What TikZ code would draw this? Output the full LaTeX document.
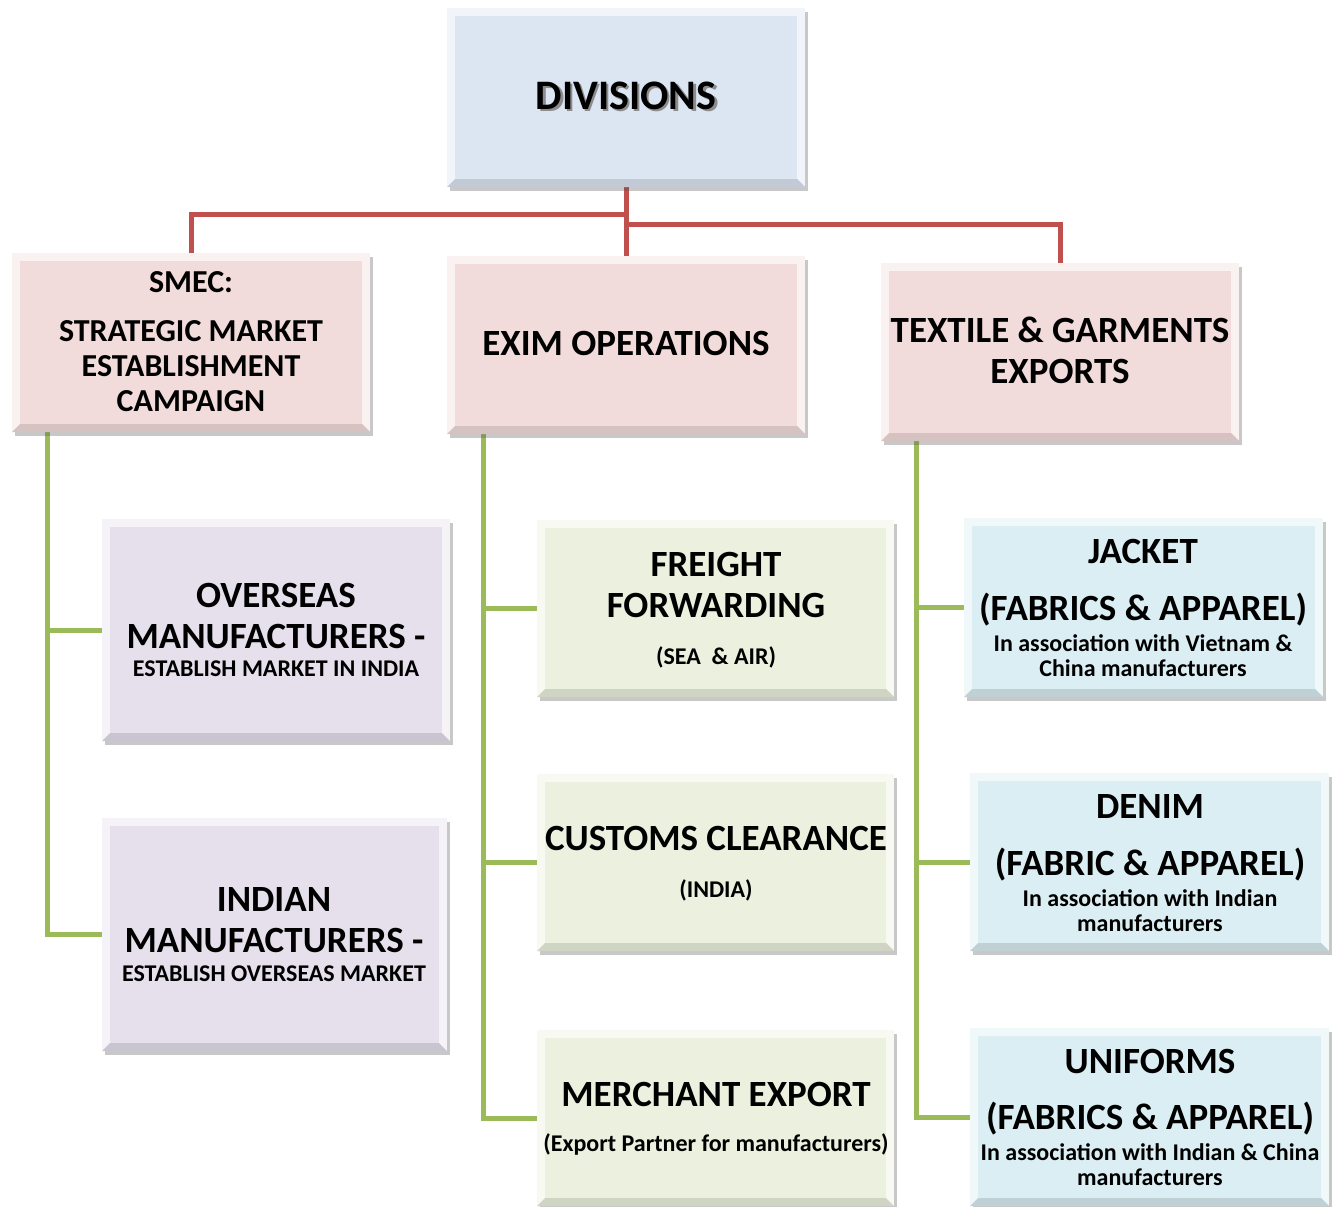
\documentclass[tikz,border=0pt]{standalone}
\usepackage{fontspec}
\setmainfont{Carlito}
\usetikzlibrary{shadows,backgrounds}

\definecolor{divfill}{HTML}{DCE6F2}
\definecolor{pinkfill}{HTML}{F2DCDB}
\definecolor{lilacfill}{HTML}{E5E0EC}
\definecolor{greenfill}{HTML}{EBF1DE}
\definecolor{bluefill}{HTML}{DAEEF3}
\definecolor{redline}{HTML}{C0504D}
\definecolor{greenline}{HTML}{9BBB59}

\tikzset{
  % bevelled box with soft drop shadow
  bx/.style={rectangle, inner sep=0pt, draw=none, fill=#1!40!white,
    drop shadow={shadow xshift=3pt, shadow yshift=-4pt, opacity=0.3, fill=black!70},
    path picture={
      \fill[#1!88!black] (path picture bounding box.south west) -- (path picture bounding box.south east)
        -- ([shift={(-8pt,8pt)}]path picture bounding box.south east)
        -- ([shift={(8pt,8pt)}]path picture bounding box.south west) -- cycle;
      \fill[#1] ([shift={(8pt,-8pt)}]path picture bounding box.north west)
        rectangle ([shift={(-8pt,8pt)}]path picture bounding box.south east);
    }},
  t/.style={font=\fontsize{#1pt}{#1pt}\selectfont\bfseries, anchor=base, inner sep=0pt},
  redl/.style={draw=redline, line width=5pt},
  greenl/.style={draw=greenline, line width=5pt},
}

\begin{document}
\begin{tikzpicture}[x=1pt, y=-1pt]
\useasboundingbox (0,0) rectangle (1336,1207);

% ---- boxes ----
\node[bx=divfill,   minimum width=358pt, minimum height=179pt] (div)  at (626,97.5) {};
\node[bx=pinkfill,  minimum width=358pt, minimum height=179pt] (smec) at (191,342.5) {};
\node[bx=pinkfill,  minimum width=358pt, minimum height=178pt] (exim) at (626,345) {};
\node[bx=pinkfill,  minimum width=358pt, minimum height=178pt] (tex)  at (1060,352) {};

\node[bx=lilacfill, minimum width=348pt, minimum height=222pt] (ovs)  at (276,630) {};
\node[bx=lilacfill, minimum width=345pt, minimum height=233pt] (ind)  at (274.5,934.5) {};

\node[bx=greenfill, minimum width=357pt, minimum height=177pt] (frt)  at (715.5,608.5) {};
\node[bx=greenfill, minimum width=357pt, minimum height=177pt] (cus)  at (715.5,862.5) {};
\node[bx=greenfill, minimum width=357pt, minimum height=176pt] (mer)  at (715.5,1118) {};

\node[bx=bluefill,  minimum width=359pt, minimum height=179pt] (jak)  at (1143.5,607.5) {};
\node[bx=bluefill,  minimum width=359pt, minimum height=178pt] (den)  at (1149.5,862) {};
\node[bx=bluefill,  minimum width=359pt, minimum height=178pt] (uni)  at (1149.5,1117) {};

% ---- connectors ----
\begin{scope}[on background layer]
  \fill[white] (0,0) rectangle (1336,1207);
  \coordinate (jl) at (626,214);
  \coordinate (jr) at (626,224);
  \draw[redl] (div.south) -- (exim.north);
  \draw[redl] (jl) -| (smec.north);
  \draw[redl] (jr) -| (tex.north);

  \coordinate (s0) at (47,432);
  \draw[greenl] (s0) |- (ind.west);
  \draw[greenl] (s0) |- (ovs.west);

  \coordinate (e0) at (483,434);
  \draw[greenl] (e0) |- (mer.west);
  \draw[greenl] (e0) |- (cus.west);
  \draw[greenl] (e0) |- (frt.west);

  \coordinate (x0) at (916,441);
  \draw[greenl] (x0) |- (uni.west);
  \draw[greenl] (x0) |- (den.west);
  \draw[greenl] (x0) |- (jak.west);
\end{scope}

% ---- texts ----
\node[t=42, text=black!45] (div-s) at (628.5,111.5) {DIVISIONS};
\node[t=42] (div-t) at (626,109) {DIVISIONS};

\node[t=32] (smec-1) at (191,292) {SMEC:};
\node[t=32] (smec-2) at (191,341) {STRATEGIC MARKET};
\node[t=32] (smec-3) at (191,376) {ESTABLISHMENT};
\node[t=32] (smec-4) at (191,411) {CAMPAIGN};

\node[t=37] (exim-1) at (626,355) {EXIM OPERATIONS};

\node[t=37] (tex-1) at (1060,342) {TEXTILE \& GARMENTS};
\node[t=37] (tex-2) at (1060,383) {EXPORTS};

\node[t=37] (ovs-1) at (276,607) {OVERSEAS};
\node[t=37] (ovs-2) at (276,648) {MANUFACTURERS -};
\node[t=24] (ovs-3) at (276,676) {ESTABLISH MARKET IN INDIA};

\node[t=37] (ind-1) at (274,911) {INDIAN};
\node[t=37] (ind-2) at (274,952) {MANUFACTURERS -};
\node[t=24] (ind-3) at (274,981) {ESTABLISH OVERSEAS MARKET};

\node[t=37] (frt-1) at (716,576) {FREIGHT};
\node[t=37] (frt-2) at (716,617) {FORWARDING};
\node[t=24] (frt-3) at (716,664) {(SEA\ \ \& AIR)};

\node[t=37] (cus-1) at (716,850) {CUSTOMS CLEARANCE};
\node[t=24] (cus-2) at (716,897) {(INDIA)};

\node[t=37] (mer-1) at (716,1106) {MERCHANT EXPORT};
\node[t=24] (mer-2) at (716,1151) {(Export Partner for manufacturers)};

\node[t=37] (jak-1) at (1143,563) {JACKET};
\node[t=37] (jak-2) at (1143,620) {(FABRICS \& APPAREL)};
\node[t=24] (jak-3) at (1143,651) {In association with Vietnam \&};
\node[t=24] (jak-4) at (1143,676) {China manufacturers};

\node[t=37] (den-1) at (1150,818) {DENIM};
\node[t=37] (den-2) at (1150,875) {(FABRIC \& APPAREL)};
\node[t=24] (den-3) at (1150,906) {In association with Indian};
\node[t=24] (den-4) at (1150,931) {manufacturers};

\node[t=37] (uni-1) at (1150,1073) {UNIFORMS};
\node[t=37] (uni-2) at (1150,1129) {(FABRICS \& APPAREL)};
\node[t=24] (uni-3) at (1150,1160) {In association with Indian \& China};
\node[t=24] (uni-4) at (1150,1185) {manufacturers};
\end{tikzpicture}
\end{document}
